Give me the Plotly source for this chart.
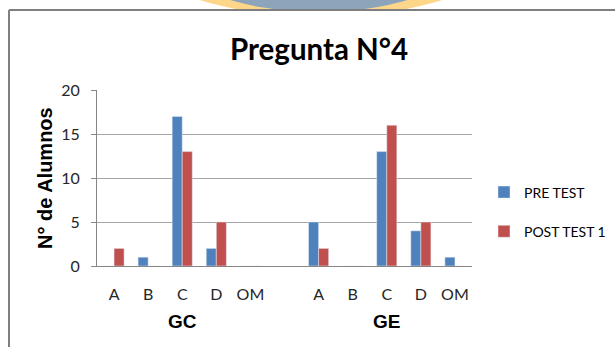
import plotly.graph_objects as go

# Data
slots = [0, 1, 2, 3, 4, 6, 7, 8, 9, 10]
tick_labels = ["A", "B", "C", "D", "OM", "A", "B", "C", "D", "OM"]
pre_test = [0, 1, 17, 2, 0, 5, 0, 13, 4, 1]
post_test = [2, 0, 13, 5, 0, 2, 0, 16, 5, 0]
groups = ["GC", "GE"]
group_centers = [2, 8]

W, H = 615, 347
L, R, T, B = 97, 143, 90, 81

fig = go.Figure()
fig.add_trace(go.Bar(x=slots, y=pre_test, name="PRE TEST", marker_color="#4F81BD",
                     legendgroup="a"))
fig.add_trace(go.Bar(x=slots, y=post_test, name="POST TEST 1", marker_color="#C0504D",
                     legendgroup="b"))

def px(x):
    return (x - L) / (W - L - R)

def py(y):
    return (H - B - y) / (H - T - B)

shapes = [
    dict(type="circle", xref="paper", yref="paper", layer="below",
         x0=px(321 - 200), x1=px(321 + 200), y0=py(-66 + 83), y1=py(-66 - 83),
         fillcolor="#FDD68A", line=dict(width=0)),
    dict(type="circle", xref="paper", yref="paper", layer="below",
         x0=px(319 - 150), x1=px(319 + 150), y0=py(-50 + 62), y1=py(-50 - 62),
         fillcolor="#8CA5BB", line=dict(width=0)),
    dict(type="rect", xref="paper", yref="paper", layer="below",
         x0=px(0), x1=px(W + 5), y0=py(10), y1=py(H + 5),
         fillcolor="white", line=dict(width=0)),
    dict(type="line", xref="paper", yref="paper", layer="above",
         x0=px(9), x1=px(W + 5), y0=py(10), y1=py(10),
         line=dict(color="#7F7F7F", width=2)),
    dict(type="line", xref="paper", yref="paper", layer="above",
         x0=px(9), x1=px(9), y0=py(10), y1=py(H + 5),
         line=dict(color="#7F7F7F", width=2)),
]

annotations = [
    dict(text="<b>Pregunta N°4</b>", xref="paper", yref="paper", x=px(319), y=py(48),
         xanchor="center", yanchor="middle", showarrow=False,
         font=dict(family="Lato", size=29.5, color="black")),
    dict(text="<b>N° de Alumnos</b>", xref="paper", yref="paper", x=px(45), y=py(178),
         xanchor="center", yanchor="middle", showarrow=False, textangle=-90,
         font=dict(family="Liberation Sans, Arial", size=20, color="black")),
]
for g, c in zip(groups, group_centers):
    annotations.append(dict(text=f"<b>{g}</b>", x=c, xref="x", yref="paper", y=py(321),
                            xanchor="center", yanchor="middle", showarrow=False,
                            font=dict(family="Liberation Sans, Arial", size=19, color="black")))

fig.update_layout(
    width=W, height=H,
    margin=dict(l=L, r=R, t=T, b=B, pad=0, autoexpand=False),
    paper_bgcolor="white", plot_bgcolor="rgba(0,0,0,0)",
    barmode="group", bargap=0.41, bargroupgap=0,
    showlegend=True,
    legend=dict(x=px(484), y=py(212), xanchor="left", yanchor="middle",
                font=dict(family="Lato", size=14, color="black"),
                tracegroupgap=18, itemwidth=30, bgcolor="rgba(0,0,0,0)"),
    shapes=shapes,
    annotations=annotations,
    xaxis=dict(range=[-0.5, 10.5], tickvals=slots, ticktext=tick_labels,
               showgrid=False, showline=True, linecolor="#868686", linewidth=1,
               ticks="", zeroline=False, ticklabelstandoff=14,
               tickfont=dict(family="Lato", size=16, color="#262626")),
    yaxis=dict(range=[0, 20], tickvals=[0, 5, 10, 15, 20],
               showgrid=True, gridcolor="#A6A6A6", gridwidth=1,
               showline=True, linecolor="#868686", linewidth=1,
               ticks="outside", ticklen=5, tickcolor="#868686",
               zeroline=False, ticklabelstandoff=8,
               tickfont=dict(family="Lato", size=16, color="#262626")),
)

fig.write_html("out.html", config={"displayModeBar": False},
               post_script="document.body.style.margin='0';")
